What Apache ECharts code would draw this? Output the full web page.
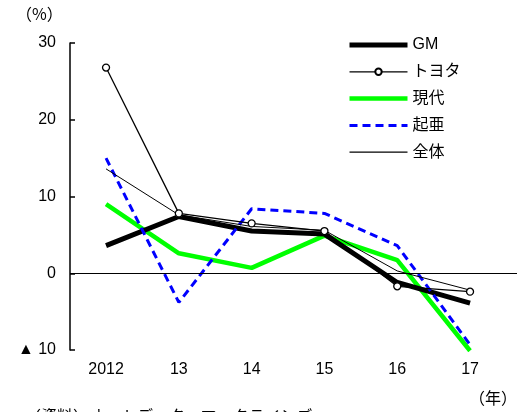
<!DOCTYPE html>
<html>
<head>
<meta charset="utf-8">
<script src="https://cdn.jsdelivr.net/npm/echarts@6/dist/echarts.min.js"></script>
<style>
html,body{margin:0;padding:0;background:#fff;}
#c{width:522px;height:412px;}
</style>
</head>
<body>
<div id="c"></div>
<script>
var categories = ['2012', '13', '14', '15', '16', '17'];
var gm     = [3.6, 7.4, 5.5, 5.1, -1.2, -3.9];
var toyota = [26.8, 7.8, 6.5, 5.5, -1.7, -2.4];
var hyundai= [9.0, 2.6, 0.7, 4.9, 1.7, -10.1];
var kia    = [15.0, -3.8, 8.4, 7.8, 3.6, -9.3];
var total  = [13.6, 7.6, 6.1, 5.6, 0.3, -2.2];
var yTicks = [-10, 0, 10, 20, 30];

var FONT = "'Liberation Sans', 'Noto Sans CJK JP', sans-serif";
var CJK = "'Noto Sans CJK JP', sans-serif";
function pts(arr){ return arr.map(function(v,i){ return [i, v]; }); }
var hidden = {opacity: 0};

var chart = echarts.init(document.getElementById('c'), null, {renderer:'canvas'});
chart.setOption({
  animation: false,
  backgroundColor: '#fff',
  textStyle: {fontFamily: FONT, color: '#000'},
  grid: {left: 70, right: 5, top: 43, bottom: 62},
  legend: {
    orient: 'vertical', left: 347, top: 37, padding: 0,
    itemWidth: 58, itemHeight: 8, itemGap: 10.8,
    textStyle: {fontFamily: FONT, fontSize: 16, lineHeight: 14, color: '#000'},
    data: [
      {name: 'GM', itemStyle: hidden, lineStyle: {width: 5, color: '#000'}},
      {name: 'トヨタ', lineStyle: {width: 1.3, color: '#000'}},
      {name: '現代', itemStyle: hidden, lineStyle: {width: 4.5, color: '#00ff00'}},
      {name: '起亜', itemStyle: hidden, lineStyle: {width: 3, color: '#0000ff', type: [8, 5]}},
      {name: '全体', itemStyle: hidden, lineStyle: {width: 1.2, color: '#000'}}
    ]
  },
  xAxis: {
    type: 'value', min: -0.495, max: 5.645,
    axisLine: {show: false, onZero: false},
    axisTick: {show: false},
    splitLine: {show: false},
    axisLabel: {
      customValues: [0,1,2,3,4,5],
      margin: 12, fontSize: 16, color: '#000', fontFamily: FONT,
      formatter: function(v){ return categories[Math.round(v)]; }
    }
  },
  yAxis: {
    type: 'value', min: -10, max: 30, interval: 10,
    axisLine: {show: true, onZero: false, lineStyle: {color: '#000', width: 1.5}},
    axisTick: {show: true, inside: true, length: 5, lineStyle: {color: '#000', width: 1.5}},
    splitLine: {show: false},
    axisLabel: {
      margin: 14, fontSize: 16, color: '#000', fontFamily: FONT,
      formatter: function(v){ return v < 0 ? '▲ ' + Math.abs(v) : String(v); }
    }
  },
  series: [
    {name: '現代', type: 'line', data: pts(hyundai), symbol: 'none',
     lineStyle: {color: '#00ff00', width: 4.5}, itemStyle: {color: '#00ff00'}, z: 2,
     markLine: {silent: true, symbol: 'none', label: {show: false},
       lineStyle: {color: '#000', width: 1, type: 'solid'}, data: [{yAxis: 0}]}},
    {name: 'GM', type: 'line', data: pts(gm), symbol: 'none',
     lineStyle: {color: '#000', width: 5}, itemStyle: {color: '#000'}, z: 3},
    {name: '起亜', type: 'line', data: pts(kia), symbol: 'none',
     lineStyle: {color: '#0000ff', width: 3, type: [8, 5]}, itemStyle: {color: '#0000ff'}, z: 4},
    {name: '全体', type: 'line', data: pts(total), symbol: 'none',
     lineStyle: {color: '#000', width: 1}, itemStyle: {color: '#000'}, z: 5},
    {name: 'トヨタ', type: 'line', data: pts(toyota), symbol: 'circle', symbolSize: 7,
     lineStyle: {color: '#000', width: 1.3},
     itemStyle: {color: '#fff', borderColor: '#000', borderWidth: 1.3}, z: 6}
  ],
  graphic: [
    {type: 'text', left: 16, top: 6, style: {text: '（%）', font: '16px ' + CJK, fill: '#000'}},
    {type: 'text', left: 469, top: 390, style: {text: '（年）', font: '16px ' + CJK, fill: '#000'}},
    {type: 'text', left: 25, top: 408, style: {text: '（資料）オートデータ、マークラインズ', font: '16px ' + CJK, fill: '#000'}}
  ]
});
</script>
</body>
</html>
